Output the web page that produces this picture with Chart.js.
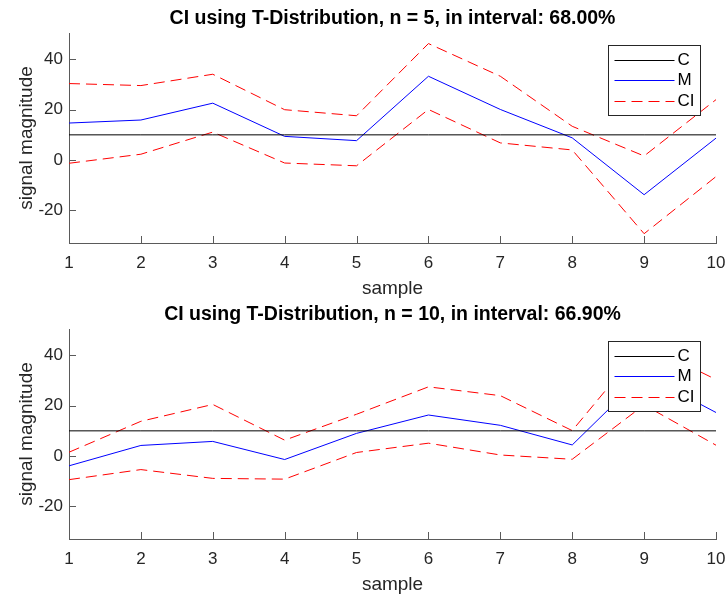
<!DOCTYPE html>
<html>
<head>
<meta charset="utf-8">
<script src="https://cdn.jsdelivr.net/npm/chart.js@4.4.1/dist/chart.umd.min.js"></script>
<style>
  body { margin: 0; background: #fff; width: 726px; height: 596px; overflow: hidden; }
  canvas { position: absolute; left: 0; }
</style>
</head>
<body>
<canvas id="chart1" width="726" height="300" style="top:0px"></canvas>
<canvas id="chart2" width="726" height="300" style="top:296px"></canvas>
<script>
// data
const samples = ['1', '2', '3', '4', '5', '6', '7', '8', '9', '10'];
const constantC = [10, 10, 10, 10, 10, 10, 10, 10, 10, 10];

const meanN5 = [14.7, 15.9, 22.6, 9.4, 7.7, 33.3, 20.1, 8.8, -13.8, 8.7];
const upperN5 = [30.4, 29.6, 34.1, 20.0, 17.6, 46.3, 33.3, 13.4, 1.6, 24.0];
const lowerN5 = [-1.3, 2.3, 11.1, -1.2, -2.3, 20.1, 6.8, 4.0, -29.3, -6.6];

const meanN10 = [-3.9, 4.2, 5.8, -1.4, 9.0, 16.3, 12.2, 4.4, 32.4, 17.3];
const upperN10 = [1.5, 13.8, 20.5, 6.3, 16.6, 27.5, 24.0, 10.1, 44.5, 30.4];
const lowerN10 = [-9.4, -5.4, -8.9, -9.2, 1.4, 5.1, 0.4, -1.3, 20.3, 4.3];

const yTicks = [-20, 0, 20, 40];
const yMin = -33, yMax = 50.5;

const FONT = "'Liberation Sans', Arial, Helvetica, sans-serif";
const axisColor = '#5a5a5a';
const textColor = '#262626';
const colorC = '#000000';
const colorM = '#0000ff';
const colorCI = '#ff0000';
const ciDash = [11, 6];

// matlab style ticks pointing into the axes
const inwardTicks = {
    id: 'inwardTicks',
    afterDraw(chart) {
        const ctx = chart.ctx;
        const area = chart.chartArea;
        const x = chart.scales.x, y = chart.scales.y;
        ctx.save();
        ctx.strokeStyle = axisColor;
        ctx.lineWidth = 1;
        ctx.beginPath();
        y.ticks.forEach(t => {
            const py = Math.round(y.getPixelForValue(t.value)) + 0.5;
            ctx.moveTo(area.left, py);
            ctx.lineTo(area.left + 7, py);
        });
        x.ticks.forEach((t, i) => {
            const px = Math.round(x.getPixelForTick(i)) + 0.5;
            ctx.moveTo(px, area.bottom);
            ctx.lineTo(px, area.bottom - 7);
        });
        ctx.stroke();
        ctx.restore();
    }
};

// legend box in the upper right corner of the axes
const legendItems = [
    { text: 'C', color: colorC, dash: [] },
    { text: 'M', color: colorM, dash: [] },
    { text: 'CI', color: colorCI, dash: ciDash }
];
const boxLegend = {
    id: 'boxLegend',
    afterDraw(chart) {
        const ctx = chart.ctx;
        const area = chart.chartArea;
        const w = 92, h = 70;
        const left = Math.round(area.right - 16 - w) + 0.5;
        const top = Math.round(area.top + 12) + 0.5;
        ctx.save();
        ctx.fillStyle = '#fff';
        ctx.fillRect(left, top, w, h);
        ctx.strokeStyle = '#262626';
        ctx.lineWidth = 1;
        ctx.strokeRect(left, top, w, h);
        legendItems.forEach((item, i) => {
            const cy = Math.round(top + 14 + i * 20.8) + 0.5;
            ctx.beginPath();
            ctx.strokeStyle = item.color;
            ctx.lineWidth = 1;
            ctx.setLineDash(item.dash);
            ctx.moveTo(left + 6, cy);
            ctx.lineTo(left + 66, cy);
            ctx.stroke();
            ctx.setLineDash([]);
            ctx.fillStyle = '#000';
            ctx.font = '17px ' + FONT;
            ctx.textBaseline = 'middle';
            ctx.textAlign = 'left';
            ctx.fillText(item.text, left + 69, cy);
        });
        ctx.restore();
    }
};

function makeChart(id, title, mean, upper, lower) {
    const ctx = document.getElementById(id).getContext('2d');
    return new Chart(ctx, {
        type: 'line',
        data: {
            labels: samples,
            datasets: [
                { label: 'C', data: constantC, borderColor: colorC, borderWidth: 1 },
                { label: 'M', data: mean, borderColor: colorM, borderWidth: 1 },
                { label: 'CI', data: upper, borderColor: colorCI, borderWidth: 1, borderDash: ciDash },
                { label: 'CI', data: lower, borderColor: colorCI, borderWidth: 1, borderDash: ciDash }
            ]
        },
        options: {
            responsive: false,
            animation: false,
            devicePixelRatio: 1,
            elements: { point: { radius: 0 }, line: { tension: 0 } },
            layout: { padding: { left: 0, right: 10, top: 0, bottom: 0 } },
            plugins: {
                legend: { display: false },
                tooltip: { enabled: false },
                title: {
                    display: true,
                    text: title,
                    fullSize: false,
                    color: '#000',
                    font: { family: FONT, size: 19.5, weight: 'bold' },
                    padding: { top: 7, bottom: 2.6 }
                }
            },
            scales: {
                x: {
                    type: 'category',
                    offset: false,
                    grid: { display: false, drawTicks: false },
                    border: { display: true, color: axisColor, width: 1 },
                    ticks: { color: textColor, font: { family: FONT, size: 17 }, padding: 10, maxRotation: 0, autoSkip: false },
                    title: { display: true, text: 'sample', color: textColor, font: { family: FONT, size: 19 }, padding: { top: 0, bottom: 0 } },
                    afterFit: s => { s.height = 57; s.paddingLeft = 0; s.paddingRight = 0; }
                },
                y: {
                    min: yMin,
                    max: yMax,
                    grid: { display: false, drawTicks: false },
                    border: { display: true, color: axisColor, width: 1 },
                    ticks: { color: textColor, font: { family: FONT, size: 17 }, padding: 6 },
                    afterBuildTicks: s => { s.ticks = yTicks.map(v => ({ value: v })); },
                    title: { display: true, text: 'signal magnitude', color: textColor, font: { family: FONT, size: 19 }, padding: { top: 15, bottom: 0 } },
                    afterFit: s => { s.width = 69; }
                }
            }
        },
        plugins: [inwardTicks, boxLegend]
    });
}

makeChart('chart1', 'CI using T-Distribution, n = 5, in interval: 68.00%', meanN5, upperN5, lowerN5);
makeChart('chart2', 'CI using T-Distribution, n = 10, in interval: 66.90%', meanN10, upperN10, lowerN10);
</script>
</body>
</html>
